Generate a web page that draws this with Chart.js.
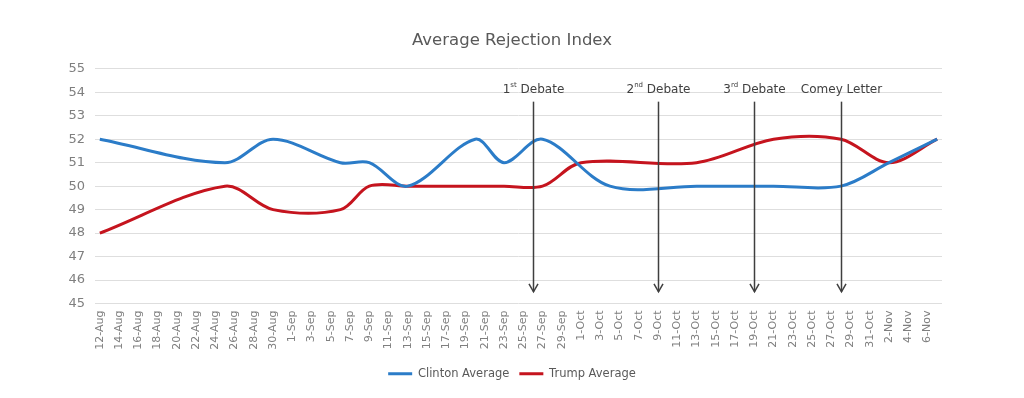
<!DOCTYPE html>
<html>
<head>
<meta charset="utf-8">
<script src="https://cdn.jsdelivr.net/npm/chart.js@4.4.1/dist/chart.umd.min.js"></script>
<style>
html,body{margin:0;padding:0;background:#ffffff;}
#wrap{width:1024px;height:398px;}
</style>
</head>
<body>
<div id="wrap"><canvas id="c" width="1024" height="398"></canvas></div>
<script>
// Daily categories (labels shown every 2 days)
const categories = [
  '12-Aug','13-Aug','14-Aug','15-Aug','16-Aug','17-Aug','18-Aug','19-Aug','20-Aug','21-Aug',
  '22-Aug','23-Aug','24-Aug','25-Aug','26-Aug','27-Aug','28-Aug','29-Aug','30-Aug','31-Aug',
  '1-Sep','2-Sep','3-Sep','4-Sep','5-Sep','6-Sep','7-Sep','8-Sep','9-Sep','10-Sep',
  '11-Sep','12-Sep','13-Sep','14-Sep','15-Sep','16-Sep','17-Sep','18-Sep','19-Sep','20-Sep',
  '21-Sep','22-Sep','23-Sep','24-Sep','25-Sep','26-Sep','27-Sep','28-Sep','29-Sep','30-Sep',
  '1-Oct','2-Oct','3-Oct','4-Oct','5-Oct','6-Oct','7-Oct','8-Oct','9-Oct','10-Oct',
  '11-Oct','12-Oct','13-Oct','14-Oct','15-Oct','16-Oct','17-Oct','18-Oct','19-Oct','20-Oct',
  '21-Oct','22-Oct','23-Oct','24-Oct','25-Oct','26-Oct','27-Oct','28-Oct','29-Oct','30-Oct',
  '31-Oct','1-Nov','2-Nov','3-Nov','4-Nov','5-Nov','6-Nov','7-Nov'
];
const tickStep = 2;           // one tick label every 2 days
const yMin = 45, yMax = 55, yStep = 1;

const clintonDates  = ['12-Aug','25-Aug','30-Aug','6-Sep','9-Sep','13-Sep','20-Sep','23-Sep','27-Sep','4-Oct','13-Oct','21-Oct','28-Oct','2-Nov','7-Nov'];
const clintonValues = [52, 51, 52, 51, 51, 50, 52, 51, 52, 50, 50, 50, 50, 51, 52];

const trumpDates  = ['12-Aug','25-Aug','30-Aug','6-Sep','9-Sep','13-Sep','20-Sep','23-Sep','27-Sep','1-Oct','13-Oct','21-Oct','28-Oct','2-Nov','7-Nov'];
const trumpValues = [48, 50, 49, 49, 50, 50, 50, 50, 50, 51, 51, 52, 52, 51, 52];

const eventDates = ['26-Sep','9-Oct','19-Oct','28-Oct'];
const eventMain  = ['1','2','3','Comey Letter'];
const eventSup   = ['st','nd','rd',''];
const eventRest  = [' Debate',' Debate',' Debate',''];

const FONT = "'DejaVu Sans', sans-serif";

function toPoints(dates, values) {
  return dates.map((d, i) => ({ x: d, y: values[i] }));
}

const eventPlugin = {
  id: 'events',
  afterDatasetsDraw(chart) {
    const ctx = chart.ctx;
    const xs = chart.scales.x, ys = chart.scales.y;
    const yTop = ys.getPixelForValue(53.6);
    const yBot = ys.getPixelForValue(45.5);
    const yText = ys.getPixelForValue(54.12);
    ctx.save();
    eventDates.forEach((d, i) => {
      const x = Math.round(xs.getPixelForValue(categories.indexOf(d))) + 0.5;
      ctx.strokeStyle = '#3f3f3f';
      ctx.lineWidth = 1.5;
      ctx.beginPath();
      ctx.moveTo(x, yTop);
      ctx.lineTo(x, yBot);
      ctx.stroke();
      ctx.beginPath();
      ctx.moveTo(x - 4.5, yBot - 8);
      ctx.lineTo(x, yBot);
      ctx.lineTo(x + 4.5, yBot - 8);
      ctx.stroke();
      // label with superscript
      const mainFont = '12px ' + FONT;
      const supFont = '7px ' + FONT;
      ctx.font = mainFont;
      const w1 = ctx.measureText(eventMain[i]).width;
      const w3 = ctx.measureText(eventRest[i]).width;
      ctx.font = supFont;
      const w2 = ctx.measureText(eventSup[i]).width;
      const total = w1 + w2 + w3;
      let cx = x - total / 2;
      ctx.fillStyle = '#404040';
      ctx.textBaseline = 'middle';
      ctx.textAlign = 'left';
      ctx.font = mainFont;
      ctx.fillText(eventMain[i], cx, yText);
      cx += w1;
      ctx.font = supFont;
      ctx.fillText(eventSup[i], cx, yText - 4);
      cx += w2;
      ctx.font = mainFont;
      ctx.fillText(eventRest[i], cx, yText);
    });
    ctx.restore();
  }
};

new Chart(document.getElementById('c'), {
  type: 'line',
  data: {
    labels: categories,
    datasets: [
      {
        label: 'Clinton Average',
        data: toPoints(clintonDates, clintonValues),
        borderColor: '#2b7cc8',
        backgroundColor: '#2b7cc8',
        borderWidth: 3,
        pointRadius: 0,
        pointHoverRadius: 0,
        pointStyle: 'line',
        tension: 0.33,
        fill: false
      },
      {
        label: 'Trump Average',
        data: toPoints(trumpDates, trumpValues),
        borderColor: '#c5141e',
        backgroundColor: '#c5141e',
        borderWidth: 3,
        pointRadius: 0,
        pointHoverRadius: 0,
        pointStyle: 'line',
        tension: 0.33,
        fill: false
      }
    ]
  },
  options: {
    responsive: false,
    animation: false,
    devicePixelRatio: 1,
    layout: { padding: { left: 0, right: 0, top: 0, bottom: 8.5 } },
    plugins: {
      title: {
        display: true,
        text: 'Average Rejection Index',
        color: '#595959',
        font: { family: FONT, size: 16.5, weight: 'normal' },
        padding: { top: 31, bottom: 18 }
      },
      legend: {
        display: true,
        position: 'bottom',
        labels: {
          usePointStyle: true,
          pointStyle: 'line',
          pointStyleWidth: 24,
          color: '#595959',
          font: { family: FONT, size: 11.5 },
          padding: 10
        }
      },
      tooltip: { enabled: false }
    },
    scales: {
      x: {
        type: 'category',
        offset: true,
        grid: { display: false, drawTicks: false },
        border: { display: false },
        ticks: {
          autoSkip: false,
          minRotation: 90,
          maxRotation: 90,
          padding: 7,
          color: '#7f7f7f',
          font: { family: FONT, size: 11 },
          callback: function (v, i) { return i % tickStep === 0 ? categories[i] : null; }
        },
        afterFit: (s) => { s.height = 54.5; }
      },
      y: {
        min: yMin,
        max: yMax,
        grid: { color: '#dedede', lineWidth: 1, drawTicks: false },
        border: { display: false },
        ticks: {
          stepSize: yStep,
          padding: 10,
          color: '#7f7f7f',
          font: { family: FONT, size: 13 }
        },
        afterFit: (s) => { s.width = 95; }
      },
      yRight: {
        position: 'right',
        display: true,
        grid: { display: false, drawTicks: false },
        border: { display: false },
        ticks: { display: false },
        afterFit: (s) => { s.width = 82; }
      }
    }
  },
  plugins: [eventPlugin]
});
</script>
</body>
</html>
